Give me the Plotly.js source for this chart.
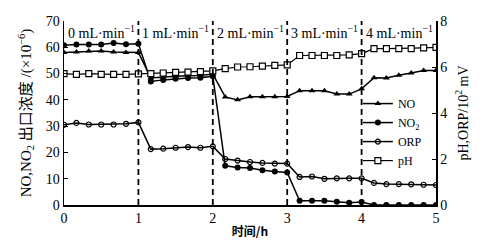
<!DOCTYPE html>
<html>
<head>
<meta charset="utf-8">
<script src="https://cdn.plot.ly/plotly-3.0.1.min.js"></script>
<style>html,body{margin:0;padding:0;background:#fff;}#chart{width:490px;height:246px;}</style>
</head>
<body>
<div id="chart"></div>
<script>
// time (h), sampled every 1/6 h
const timeH = [0,1/6,2/6,3/6,4/6,5/6,1,7/6,8/6,9/6,10/6,11/6,2,13/6,14/6,15/6,16/6,17/6,3,19/6,20/6,21/6,22/6,23/6,4,25/6,26/6,27/6,28/6,29/6,5];
const seriesNO  = [58.0,58.2,58.6,58.6,58.2,58.0,58.0, 48.3,48.7,49.0,49.2,49.3,49.8, 41.1,40.0,41.2,41.2,41.2,41.3, 43.5,43.5,43.5,42.2,42.2,44.2, 48.4,48.3,49.4,50.2,51.2,51.2];
const seriesNO2 = [60.8,61.1,61.1,61.1,61.6,61.2,61.3, 47.0,47.6,48.0,48.3,48.4,49.0, 14.9,14.3,14.1,13.2,12.7,12.4, 1.6,1.6,1.6,1.25,0.9,1.1, 0,0,0,0,0,0];
const seriesORP = [3.49,3.57,3.50,3.50,3.50,3.53,3.59, 2.43,2.45,2.49,2.52,2.49,2.55, 2.00,1.93,1.87,1.83,1.80,1.80, 1.22,1.24,1.14,1.16,1.16,1.16, 0.96,0.91,0.91,0.90,0.88,0.87];
const seriesPH  = [5.71,5.68,5.71,5.68,5.68,5.68,5.70, 5.71,5.74,5.77,5.78,5.80,5.83, 5.93,6.00,6.01,6.04,6.07,6.09, 6.50,6.50,6.50,6.50,6.53,6.58, 6.80,6.80,6.80,6.80,6.83,6.85];
const switchTimes = [1,2,3,4];
const segmentStarts = [0,1,2,3,4];
const flowLabels = ['0 mL·min<sup>−1</sup>','1 mL·min<sup>−1</sup>','2 mL·min<sup>−1</sup>','3 mL·min<sup>−1</sup>','4 mL·min<sup>−1</sup>'];
const leftTicks = [0,10,20,30,40,50,60,70];
const rightTicks = [0,2,4,6,8];
const xTicks = [0,1,2,3,4,5];

const FONT = '"Liberation Serif","Times New Roman","Noto Sans CJK SC",serif';
const lineStyle = {color:'#000', width:1.5};

const traces = [
  {x:timeH, y:seriesNO, name:'NO', mode:'lines+markers', line:lineStyle,
   marker:{symbol:'triangle-up', size:6, color:'#000'}},
  {x:timeH, y:seriesNO2, name:'NO<sub>2</sub>', mode:'lines+markers', line:lineStyle,
   marker:{symbol:'circle', size:6, color:'#000'}},
  {x:timeH, y:seriesORP, name:'ORP', yaxis:'y2', mode:'lines+markers', line:lineStyle,
   marker:{symbol:'circle-open', size:5, color:'#000', line:{width:1.2, color:'#000'}}},
  {x:timeH, y:seriesPH, name:'pH', yaxis:'y2', mode:'lines+markers', line:{color:'#000', width:1.2},
   marker:{symbol:'square', size:6, color:'#fff', line:{width:1.2, color:'#000'}}}
];

const shapes = switchTimes.map(t => ({
  type:'line', xref:'x', yref:'y', x0:t, x1:t, y0:0, y1:70,
  line:{color:'#000', width:1.8, dash:'6px,4px'}
}));

const annotations = segmentStarts.map((s,i) => ({
  x:s, y:70, xref:'x', yref:'y', xanchor:'left', yanchor:'top',
  xshift:2, yshift:0, showarrow:false, text:flowLabels[i],
  font:{family:FONT, size:14, color:'#000'}
}));

const layout = {
  width:490, height:246,
  margin:{l:64, r:54, t:21, b:41, pad:0},
  paper_bgcolor:'#fff', plot_bgcolor:'#fff',
  font:{family:FONT, size:14, color:'#000'},
  showlegend:true,
  legend:{x:0.79, y:0.63, xanchor:'left', yanchor:'top', bgcolor:'rgba(0,0,0,0)',
          font:{family:FONT, size:12}, itemwidth:30, tracegroupgap:0},
  xaxis:{range:[0,5], tickvals:xTicks, ticktext:xTicks.map(String),
         showline:true, linecolor:'#000', linewidth:1.5, mirror:false,
         ticks:'', showgrid:false, zeroline:false,
         tickfont:{family:FONT, size:14},
         title:{text:'<b>时间/h</b>', font:{family:'"Noto Sans CJK SC",sans-serif', size:12}, standoff:2}},
  yaxis:{range:[0,70], tickvals:leftTicks, showline:true, linecolor:'#000', linewidth:1.5,
         ticks:'inside', ticklen:4, tickcolor:'#000', showgrid:false, zeroline:false,
         tickfont:{family:FONT, size:14},
         title:{text:'NO,NO<sub>2</sub> 出口浓度 /(×10<sup>−6</sup>)', font:{family:FONT, size:15}, standoff:10}},
  yaxis2:{range:[0,8], tickvals:rightTicks, overlaying:'y', side:'right', anchor:'x',
          showline:true, linecolor:'#000', linewidth:1.5,
          ticks:'inside', ticklen:4, tickcolor:'#000', showgrid:false, zeroline:false,
          tickfont:{family:FONT, size:14},
          title:{text:'pH,ORP/10<sup>2</sup> mV', font:{family:FONT, size:14}, standoff:12}},
  shapes:shapes,
  annotations:annotations
};

Plotly.newPlot('chart', traces, layout, {displayModeBar:false, staticPlot:true});
</script>
</body>
</html>
